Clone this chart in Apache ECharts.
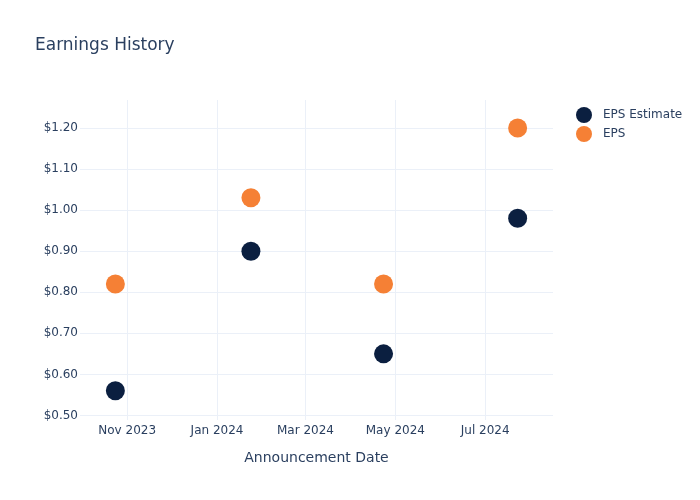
<!DOCTYPE html>
<html><head><meta charset="utf-8">
<script src="https://cdn.jsdelivr.net/npm/echarts@6/dist/echarts.min.js"></script>
<style>html,body{margin:0;padding:0;background:#fff}#c{width:700px;height:500px}</style>
</head><body><div id="c"></div>
<script>
const dates = ['2023-10-24', '2024-01-24', '2024-04-23', '2024-07-23'];
const epsEstimate = [0.56, 0.90, 0.65, 0.98];
const eps = [0.82, 1.03, 0.82, 1.20];
const xTicks = ['2023-11-01', '2024-01-01', '2024-03-01', '2024-05-01', '2024-07-01'];
const yTicks = [0.5, 0.6, 0.7, 0.8, 0.9, 1.0, 1.1, 1.2];
const seriesNames = ['EPS Estimate', 'EPS'];
const colors = ['#0b1f40', '#f58035'];

const ts = s => new Date(s + 'T00:00:00Z').getTime();
const months = ['Jan','Feb','Mar','Apr','May','Jun','Jul','Aug','Sep','Oct','Nov','Dec'];
const font = 'DejaVu Sans';
const txt = '#2a3f5f';
const chart = echarts.init(document.getElementById('c'));
chart.setOption({
  animation: false,
  textStyle: {fontFamily: font},
  title: {text: 'Earnings History', left: 30, top: 32, textStyle: {fontFamily: font, fontSize: 17, fontWeight: 'normal', color: txt}},
  legend: {
    orient: 'vertical', left: 571, top: 102, itemGap: 3, itemWidth: 28, itemHeight: 16,
    icon: 'circle', textStyle: {fontFamily: font, fontSize: 12, color: txt},
    data: seriesNames
  },
  grid: {left: 80, right: 147, top: 100, bottom: 80, containLabel: false},
  xAxis: {
    type: 'value', min: ts('2023-09-30'), max: ts('2024-08-16'),
    name: 'Announcement Date', nameLocation: 'middle', nameGap: 31,
    nameTextStyle: {fontFamily: font, fontSize: 14, color: txt},
    axisLine: {show: false}, axisTick: {show: false, customValues: xTicks.map(ts)},
    axisLabel: {customValues: xTicks.map(ts), margin: 5, fontFamily: font, fontSize: 12, color: txt,
      formatter: v => { const d = new Date(v); return months[d.getUTCMonth()] + ' ' + d.getUTCFullYear(); }},
    splitLine: {show: true, lineStyle: {color: '#ebf0f8', width: 1}}
  },
  yAxis: {
    type: 'value', min: 0.489, max: 1.268,
    axisLine: {show: false}, axisTick: {show: false, customValues: yTicks},
    axisLabel: {customValues: yTicks, margin: 2, fontFamily: font, fontSize: 12, color: txt,
      formatter: v => '$' + v.toFixed(2)},
    splitLine: {show: true, lineStyle: {color: '#ebf0f8', width: 1}}
  },
  series: [
    {name: seriesNames[0], type: 'scatter', symbolSize: 19, itemStyle: {color: colors[0], opacity: 1},
     data: dates.map((d, i) => [ts(d), epsEstimate[i]])},
    {name: seriesNames[1], type: 'scatter', symbolSize: 19, itemStyle: {color: colors[1], opacity: 1},
     data: dates.map((d, i) => [ts(d), eps[i]])}
  ]
});
</script></body></html>
